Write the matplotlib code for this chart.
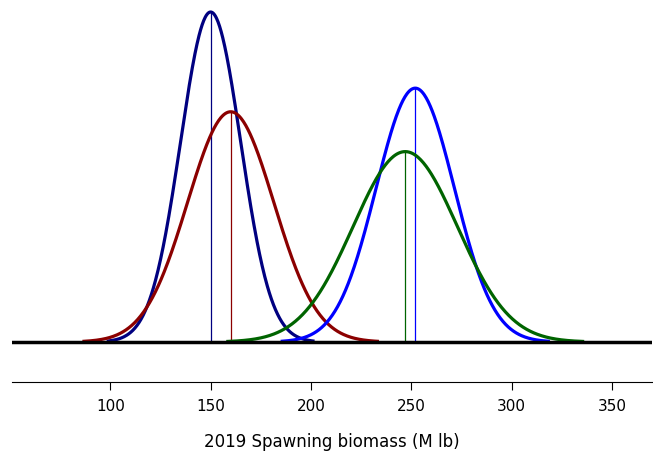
import numpy as np
import matplotlib
matplotlib.use("Agg")
import matplotlib.pyplot as plt

names = ["navy", "darkred", "blue", "green"]
means = [150, 160, 252, 247]
sds = [15, 21.5, 19.5, 26]
colors = ["#000080", "#8B0000", "#0000FF", "#006400"]
ticks = [100, 150, 200, 250, 300, 350]

fig = plt.figure(figsize=(6.53, 4.58), dpi=100)
ax = fig.add_axes([12/653, 76/458, 640/653, 382/458])
for m, s, c in zip(means, sds, colors):
    x = np.linspace(m - 3.4*s, m + 3.4*s, 400)
    y = np.exp(-0.5*((x-m)/s)**2)/(s*np.sqrt(2*np.pi))
    ax.plot(x, y, color=c, lw=2.3)
    ax.plot([m, m], [0, 1/(s*np.sqrt(2*np.pi))], color=c, lw=0.9)
ax.axhline(0, color="black", lw=2.5)
peak = 1/(15*np.sqrt(2*np.pi))
ax.set_xlim(51, 370)
ax.set_ylim(-40/330*peak, peak*342/330)
for sp in ["left", "right", "top"]:
    ax.spines[sp].set_visible(False)
ax.set_yticks([])
ax.set_xticks(ticks)
ax.tick_params(axis="x", labelsize=11, length=6, pad=6)
ax.set_xlabel("2019 Spawning biomass (M lb)", fontsize=12, labelpad=14)
fig.savefig("out.png", dpi=100)
